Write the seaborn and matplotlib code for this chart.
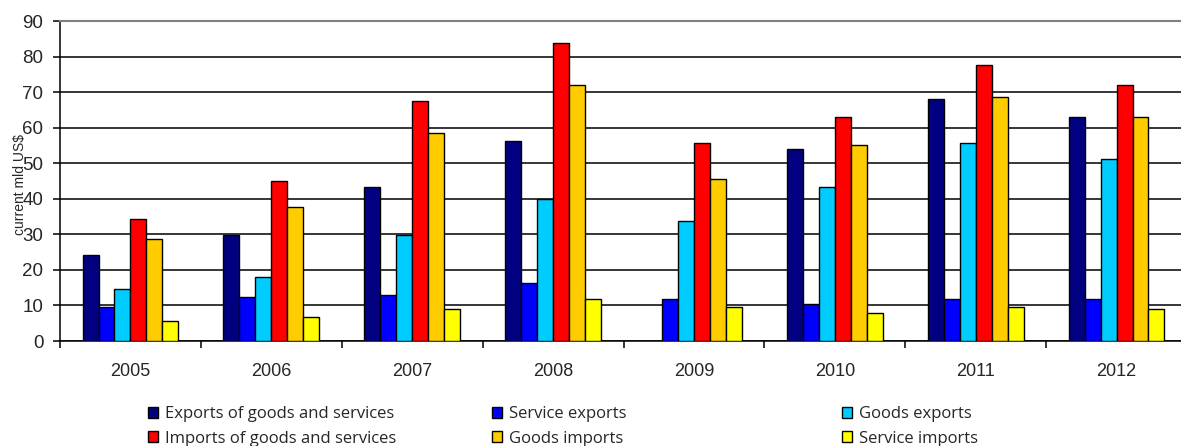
import numpy as np
import pandas as pd
import matplotlib
matplotlib.use("Agg")
import matplotlib.pyplot as plt
from matplotlib.patches import Patch
from matplotlib.ticker import FixedLocator
import seaborn as sns

years = ["2005", "2006", "2007", "2008", "2009", "2010", "2011", "2012"]
series = ["Exports of goods and services", "Service exports", "Goods exports",
          "Imports of goods and services", "Goods imports", "Service imports"]
exports_gs = [24.2, 29.8, 43.3, 56.3, np.nan, 54.0, 68.1, 63.0]
service_exports = [9.6, 12.5, 12.9, 16.3, 11.9, 10.3, 11.8, 11.8]
goods_exports = [14.7, 18.1, 29.8, 39.8, 33.8, 43.3, 55.7, 51.2]
imports_gs = [34.3, 45.0, 67.6, 83.9, 55.8, 63.0, 77.6, 72.0]
goods_imports = [28.8, 37.8, 58.6, 72.0, 45.6, 55.1, 68.6, 63.0]
service_imports = [5.7, 6.8, 9.1, 11.9, 9.6, 8.0, 9.6, 9.1]
colors = ["#000080", "#0000FF", "#00CCFF", "#FF0000", "#FFCC00", "#FFFF00"]
yticks = [0, 10, 20, 30, 40, 50, 60, 70, 80, 90]
ylabel = "current mld US$"

values = [exports_gs, service_exports, goods_exports, imports_gs, goods_imports, service_imports]
rows = []
for s, vals in zip(series, values):
    for y, v in zip(years, vals):
        rows.append({"year": y, "series": s, "value": v})
df = pd.DataFrame(rows)

sns.set_style("white")
plt.rcParams["font.family"] = ["Liberation Sans", "DejaVu Sans"]

W, H = 1181, 446
fig = plt.figure(figsize=(W / 100, H / 100), dpi=100)
ax = fig.add_axes([60 / W, 105 / H, (1187 - 60) / W, 320 / H])

palette = dict(zip(series, colors))
sns.barplot(data=df, x="year", y="value", hue="series", hue_order=series, order=years,
            palette=palette, width=0.68, gap=0, edgecolor="black", linewidth=1.0,
            saturation=1, errorbar=None, legend=False, ax=ax, zorder=3)

ax.set_xlim(-0.5, len(years) - 0.5)
ax.set_ylim(0, 90)
ax.set_yticks(yticks)
ax.yaxis.grid(True, color="black", linewidth=1.1)
ax.set_axisbelow(True)
ax.set_xlabel("")
ax.set_ylabel(ylabel, fontsize=10, family=["Liberation Sans", "DejaVu Sans"])
ax.yaxis.set_label_coords(-0.029, 0.49)

for side in ["left", "bottom"]:
    ax.spines[side].set_color("black")
    ax.spines[side].set_linewidth(1.1)
ax.spines["top"].set_color("#808080")
ax.spines["top"].set_linewidth(1.5)
ax.spines["right"].set_visible(False)

ax.xaxis.set_minor_locator(FixedLocator(np.arange(-0.5, len(years), 1.0)))
ax.tick_params(axis="x", which="major", length=0, pad=16, labelsize=13)
ax.tick_params(axis="x", which="minor", length=5, width=1.1, color="black", direction="out", bottom=True)
ax.tick_params(axis="y", which="major", length=5, width=1.1, color="black", direction="out", left=True, pad=7, labelsize=13.5)

col_x = [148 / W, 492 / W, 842 / W]
columns = [[0, 3], [1, 4], [2, 5]]
for cx, idx in zip(col_x, columns):
    handles = [Patch(facecolor=colors[i], edgecolor="black", linewidth=1.0) for i in idx]
    labels = [series[i] for i in idx]
    fig.legend(handles, labels, loc="upper left", bbox_to_anchor=(cx, 0.089),
               frameon=False, borderpad=0, borderaxespad=0, handlelength=0.62,
               handleheight=0.62, handletextpad=0.42, labelspacing=0.5,
               prop={"family": ["Open Sans", "DejaVu Sans"], "size": 12})

fig.savefig("out.png", dpi=100)
